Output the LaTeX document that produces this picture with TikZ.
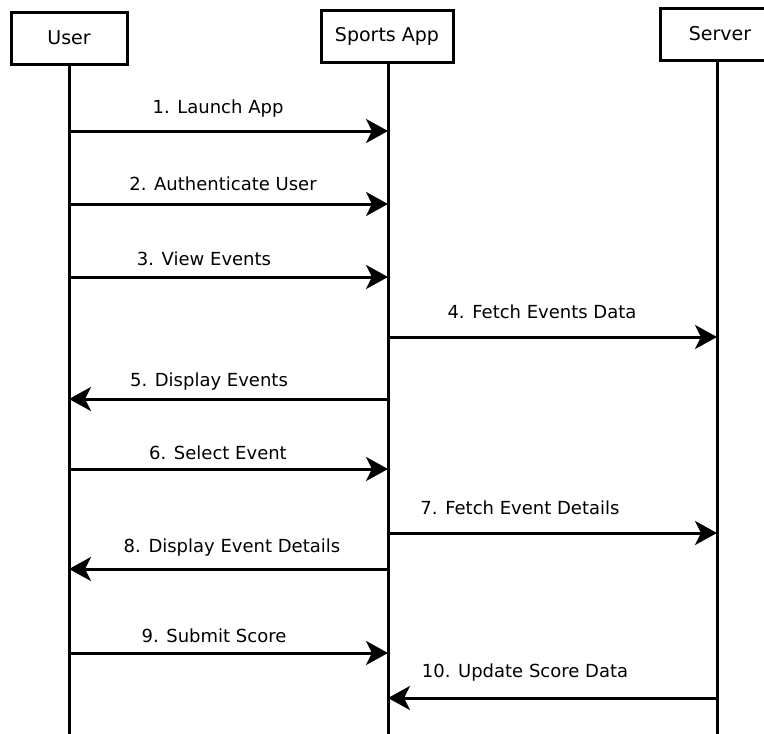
\documentclass[tikz,border=0pt]{standalone}
\usepackage{fontspec}
\setmainfont{DejaVu Sans}
\usetikzlibrary{arrows.meta}
\begin{document}
\begin{tikzpicture}[x=1pt,y=-1pt,
  actor/.style={draw,line width=3pt,minimum height=52pt,inner sep=0pt,font=\fontsize{19}{23}\selectfont},
  lifeline/.style={line width=3pt},
  msg/.style={line width=3pt,-{Stealth[length=22pt,width=24pt,inset=6pt]}},
  msglabel/.style={font=\fontsize{18}{22}\selectfont,inner sep=0pt}]
\useasboundingbox (0,0) rectangle (764,734);
\clip (0,0) rectangle (764,734);
\fill[white] (0,0) rectangle (764,734);

% participants
\node[actor,minimum width=116pt] (user) at (69,38) {User};
\node[actor,minimum width=132pt] (app) at (387,36) {Sports App};
\node[actor,minimum width=120pt,anchor=west] (server) at (659,34) {};
\node[msglabel,font=\fontsize{19}{23}\selectfont] (servertext) at (720,34) {Server};

% lifeline ends
\coordinate (userend) at (69,740);
\coordinate (append) at (388,740);
\coordinate (serverend) at (717,740);
\draw[lifeline] (user.south -| userend) -- (userend);
\draw[lifeline] (app.south -| append) -- (append);
\draw[lifeline] (server.south -| serverend) -- (serverend);

% message anchor points on the lifelines
\foreach \n/\y in {1/131,2/204,3/277,4/337,5/399,6/469,7/533,8/569,9/653,10/698}{
  \coordinate (u\n) at (69,\y);
  \coordinate (a\n) at (388,\y);
  \coordinate (s\n) at (717,\y);
}

% messages
\draw[msg] (u1) -- (a1);
\node[msglabel] (l1) at (218,109) {1. Launch App};
\draw[msg] (u2) -- (a2);
\node[msglabel] (l2) at (223,184) {2. Authenticate User};
\draw[msg] (u3) -- (a3);
\node[msglabel] (l3) at (204,259) {3. View Events};
\draw[msg] (a4) -- (s4);
\node[msglabel] (l4) at (542,312) {4. Fetch Events Data};
\draw[msg] (a5) -- (u5);
\node[msglabel] (l5) at (209,382) {5. Display Events};
\draw[msg] (u6) -- (a6);
\node[msglabel] (l6) at (218,453) {6. Select Event};
\draw[msg] (a7) -- (s7);
\node[msglabel] (l7) at (520,508) {7. Fetch Event Details};
\draw[msg] (a8) -- (u8);
\node[msglabel] (l8) at (232,548) {8. Display Event Details};
\draw[msg] (u9) -- (a9);
\node[msglabel] (l9) at (214,636) {9. Submit Score};
\draw[msg] (s10) -- (a10);
\node[msglabel] (l10) at (525,673) {10. Update Score Data};
\end{tikzpicture}
\end{document}
